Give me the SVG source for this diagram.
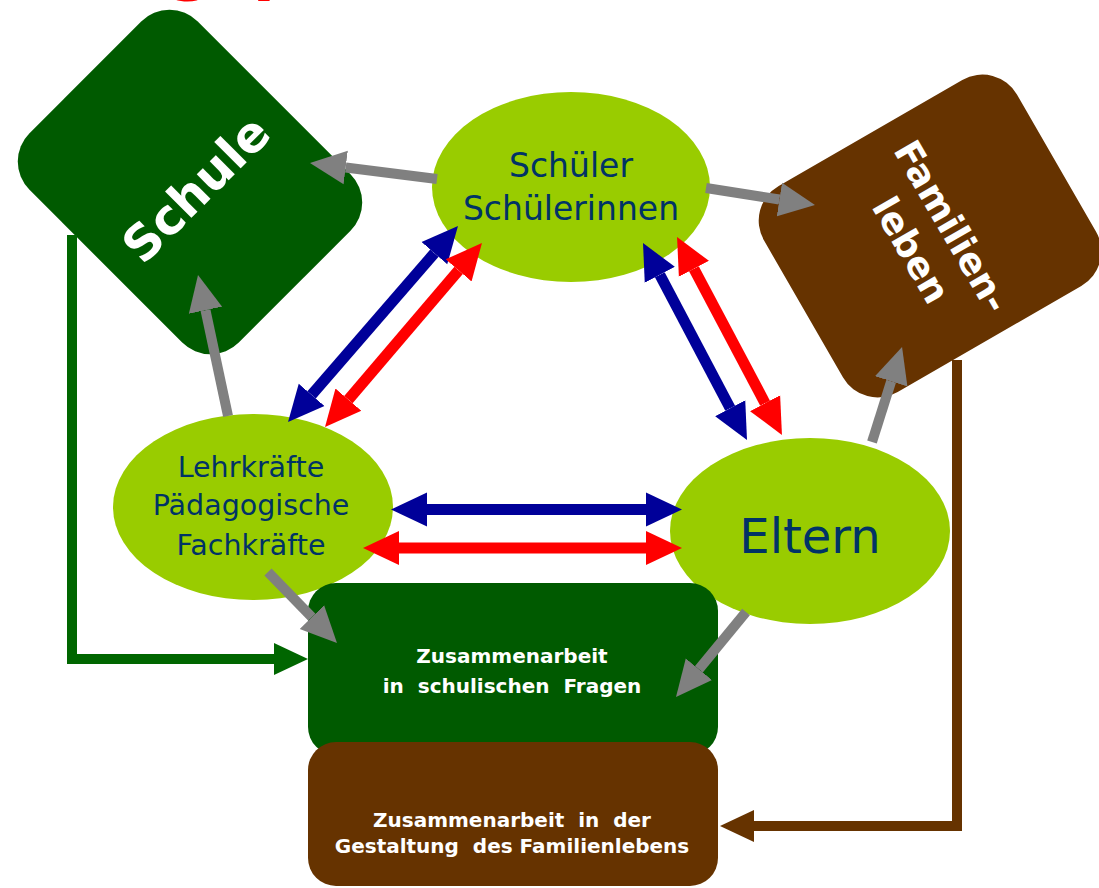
<svg xmlns="http://www.w3.org/2000/svg" width="1099" height="888" viewBox="0 0 1099 888">
<style>
.ell{fill:#99cc00}
.etx{font-family:"DejaVu Sans","Liberation Sans",sans-serif;fill:#003366;text-anchor:middle}
.wtx{font-family:"DejaVu Sans","Liberation Sans",sans-serif;font-weight:bold;fill:#ffffff;text-anchor:middle}
.gray{stroke:#808080;stroke-width:10;fill:none;marker-end:url(#mg)}
.blue{stroke:#000099;stroke-width:11;fill:none;marker-start:url(#mb);marker-end:url(#mb)}
.red{stroke:#ff0000;stroke-width:11;fill:none;marker-start:url(#mr);marker-end:url(#mr)}
</style>
<defs>
<marker id="mg" viewBox="0 -18 36 36" refX="0" refY="0" markerWidth="36" markerHeight="36" markerUnits="userSpaceOnUse" orient="auto"><path d="M0,-17 L36,0 L0,17 z" fill="#808080"/></marker>
<marker id="mb" viewBox="0 -18 36 36" refX="0" refY="0" markerWidth="36" markerHeight="36" markerUnits="userSpaceOnUse" orient="auto-start-reverse"><path d="M0,-17 L36,0 L0,17 z" fill="#000099"/></marker>
<marker id="mr" viewBox="0 -18 36 36" refX="0" refY="0" markerWidth="36" markerHeight="36" markerUnits="userSpaceOnUse" orient="auto-start-reverse"><path d="M0,-17 L36,0 L0,17 z" fill="#ff0000"/></marker>
<marker id="mgr" viewBox="0 -18 36 36" refX="0" refY="0" markerWidth="36" markerHeight="36" markerUnits="userSpaceOnUse" orient="auto"><path d="M0,-16 L34,0 L0,16 z" fill="#006600"/></marker>
<marker id="mbr" viewBox="0 -18 36 36" refX="0" refY="0" markerWidth="36" markerHeight="36" markerUnits="userSpaceOnUse" orient="auto"><path d="M0,-16 L34,0 L0,16 z" fill="#663300"/></marker>
</defs>
<rect width="1099" height="888" fill="#ffffff"/>
<text x="-152" y="-13" font-family="DejaVu Sans, sans-serif" font-weight="bold" font-size="65" fill="#ff0000">Erziehungspartnerschaft</text>

<g id="schule">
<rect x="-148" y="-119" width="296" height="238" rx="40" fill="#005a00" transform="translate(190,182) rotate(45)"/>
<text class="wtx" font-size="49" transform="translate(196,189) rotate(-45)" y="17">Schule</text>
</g>
<g id="familienleben">
<rect x="-146" y="-119" width="292" height="238" rx="40" fill="#663300" transform="translate(930,236) rotate(-30)"/>
<g transform="translate(932,238) rotate(60)">
<text class="wtx" font-size="37" y="-10">Familien-</text>
<text class="wtx" font-size="37" y="37">leben</text>
</g>
</g>
<g id="schueler">
<ellipse class="ell" cx="571" cy="187" rx="139" ry="95"/>
<text class="etx" font-size="33" x="571" y="177">Schüler</text>
<text class="etx" font-size="33" x="571" y="220">Schülerinnen</text>
</g>
<g id="lehrkraefte">
<ellipse class="ell" cx="253" cy="507" rx="140" ry="93"/>
<text class="etx" font-size="28.5" x="251" y="477">Lehrkräfte</text>
<text class="etx" font-size="28.5" x="251" y="515">Pädagogische</text>
<text class="etx" font-size="28.5" x="251" y="555">Fachkräfte</text>
</g>
<g id="eltern">
<ellipse class="ell" cx="810" cy="531" rx="140" ry="93"/>
<text class="etx" font-size="48" x="810" y="553">Eltern</text>
</g>
<g id="schulfragen">
<rect x="308" y="583" width="410" height="172" rx="28" fill="#005a00"/>
<text class="wtx" font-size="20" x="512" y="663" xml:space="preserve">Zusammenarbeit</text>
<text class="wtx" font-size="20" x="512" y="693" xml:space="preserve">in  schulischen  Fragen</text>
</g>
<g id="familienfragen">
<rect x="308" y="742" width="410" height="144" rx="28" fill="#663300"/>
<text class="wtx" font-size="20" x="512" y="827" xml:space="preserve">Zusammenarbeit  in  der</text>
<text class="wtx" font-size="20" x="512" y="853" xml:space="preserve">Gestaltung  des Familienlebens</text>
</g>

<g id="connectors">
<line class="gray" x1="437" y1="179" x2="345.7" y2="167.5"/>
<line class="gray" x1="706" y1="188" x2="779.4" y2="199.5"/>
<line class="gray" x1="228" y1="416" x2="205.5" y2="310.2"/>
<line class="gray" x1="872" y1="442" x2="891.2" y2="381.3"/>
<line class="gray" x1="268" y1="572" x2="311.9" y2="617.2"/>
<line class="gray" x1="746" y1="612" x2="698.9" y2="669.2"/>
<line class="blue" x1="311.6" y1="394.8" x2="434.4" y2="253.2"/>
<line class="red" x1="348.4" y1="399.6" x2="458.6" y2="270.4"/>
<line class="blue" x1="659.8" y1="274.8" x2="730.2" y2="408.2"/>
<line class="red" x1="693.9" y1="268.8" x2="765.1" y2="403.2"/>
<line class="blue" x1="427" y1="509.5" x2="646" y2="509.5"/>
<line class="red" x1="399" y1="548" x2="646" y2="548"/>
<path d="M72,235 V659 H274" stroke="#006600" stroke-width="10" fill="none" marker-end="url(#mgr)"/>
<path d="M957,360 V826 H754" stroke="#663300" stroke-width="10" fill="none" marker-end="url(#mbr)"/>
</g>
</svg>
